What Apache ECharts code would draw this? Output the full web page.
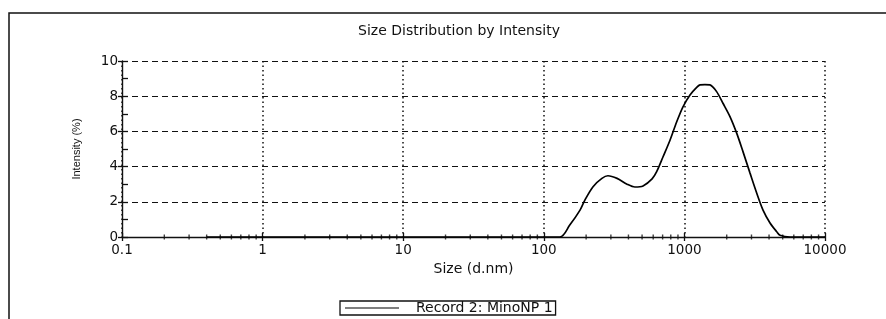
<!DOCTYPE html>
<html>
<head>
<meta charset="utf-8">
<script src="https://cdn.jsdelivr.net/npm/echarts@6/dist/echarts.min.js"></script>
<style>
  html, body { margin: 0; padding: 0; background: #fff; }
  #chart { width: 886px; height: 319px; }
</style>
</head>
<body>
<div id="chart"></div>
<script>
// size (d.nm) and intensity (%)
const sizes = [0.4, 130, 153, 181, 196, 224, 259, 286, 332, 391, 445, 508, 589, 635, 705, 790, 882, 977,
  1096, 1223, 1291, 1400, 1520, 1695, 1880, 2109, 2354, 2610, 2929, 3267, 3624, 4064, 4538, 4786, 5636, 10000];
const intensity = [0, 0, 0.68, 1.53, 2.1, 2.86, 3.33, 3.48, 3.33, 3.0, 2.84, 2.9, 3.3, 3.71, 4.56, 5.5, 6.55, 7.4,
  8.07, 8.5, 8.64, 8.66, 8.64, 8.26, 7.6, 6.84, 5.9, 4.85, 3.63, 2.5, 1.53, 0.8, 0.3, 0.1, 0, 0];
// minor ticks of the log axis (2..9 of each decade)
const minorTicks = [0.2, 0.3, 0.4, 0.5, 0.6, 0.7, 0.8, 0.9, 2, 3, 4, 5, 6, 7, 8, 9,
  20, 30, 40, 50, 60, 70, 80, 90, 200, 300, 400, 500, 600, 700, 800, 900,
  2000, 3000, 4000, 5000, 6000, 7000, 8000, 9000];
const yTicks = [0, 2, 4, 6, 8, 10];
const seriesName = "Record 2: MinoNP 1";

const chart = echarts.init(document.getElementById("chart"));
const font = "DejaVu Sans, sans-serif";
const ink = "#111";

const option = {
  animation: false,
  title: {
    text: "Size Distribution by Intensity",
    left: 454,
    top: 19,
    textAlign: "center",
    textStyle: { fontFamily: font, fontSize: 14, fontWeight: "normal", color: ink }
  },
  legend: {
    data: [{ name: seriesName, icon: "rect" }],
    left: 340,
    top: 301,
    itemWidth: 54,
    itemHeight: 1,
    padding: [0, 3, 0, 5],
    borderColor: ink,
    borderWidth: 1.3,
    textStyle: { fontFamily: font, fontSize: 14, color: ink, padding: [0, 0, 0, 12] }
  },
  graphic: [
    {
      type: "polyline",
      shape: { points: [[9, 330], [9, 13], [890, 13]] },
      style: { stroke: ink, lineWidth: 1.5, fill: null }
    }
  ],
  grid: { left: 122, right: 61, top: 61, bottom: 82 },
  xAxis: [
    {
      type: "log",
      logBase: 10,
      min: 0.1,
      max: 10000,
      name: "Size (d.nm)",
      nameLocation: "middle",
      nameGap: 24,
      nameTextStyle: { fontFamily: font, fontSize: 14, color: ink },
      axisLine: { lineStyle: { color: ink, width: 1.4 } },
      axisTick: { show: true, length: 4, lineStyle: { color: ink, width: 1.3 } },
      axisLabel: {
        margin: 6,
        fontFamily: font,
        fontSize: 13.5,
        color: ink,
        formatter: v => String(v)
      },
      splitLine: { show: true, lineStyle: { color: ink, type: [1.5, 3], width: 1.5 } }
    },
    {
      type: "log",
      logBase: 10,
      min: 0.1,
      max: 10000,
      position: "bottom",
      gridIndex: 0,
      axisLine: { show: false },
      axisTick: { show: true, inside: true, length: 4, lineStyle: { color: ink, width: 1.3 } },
      axisLabel: { show: false },
      splitLine: { show: false }
    }
  ],
  yAxis: [
    {
      type: "value",
      min: yTicks[0],
      max: yTicks[yTicks.length - 1],
      interval: 2,
      name: "Intensity (%)",
      nameLocation: "middle",
      nameGap: 40,
      nameTextStyle: { fontFamily: "Liberation Sans, Arial, sans-serif", fontSize: 11, color: ink },
      axisLine: { show: true, lineStyle: { color: ink, width: 1.4 } },
      axisTick: { show: true, length: 4, lineStyle: { color: ink, width: 1.3 } },
      axisLabel: { margin: 4, fontFamily: font, fontSize: 13.5, color: ink },
      splitLine: { show: true, lineStyle: { color: ink, type: [6, 4], width: 1 } }
    },
    {
      type: "value",
      min: yTicks[0],
      max: yTicks[yTicks.length - 1],
      interval: 1,
      position: "left",
      axisLine: { show: false },
      axisTick: { show: true, inside: true, length: 6, lineStyle: { color: ink, width: 1.3 } },
      axisLabel: { show: false },
      splitLine: { show: false }
    }
  ],
  series: [
    {
      name: seriesName,
      type: "line",
      data: sizes.map((s, i) => [s, intensity[i]]),
      smooth: 0.3,
      showSymbol: false,
      lineStyle: { color: "#000", width: 1.7 },
      itemStyle: { color: "#000" },
      z: 5
    },
    {
      name: "minor",
      type: "scatter",
      data: minorTicks.map(v => [v, 0]),
      symbol: "rect",
      symbolSize: [1.4, 5],
      itemStyle: { color: ink },
      silent: true,
      z: 4
    }
  ]
};

chart.setOption(option);
</script>
</body>
</html>
